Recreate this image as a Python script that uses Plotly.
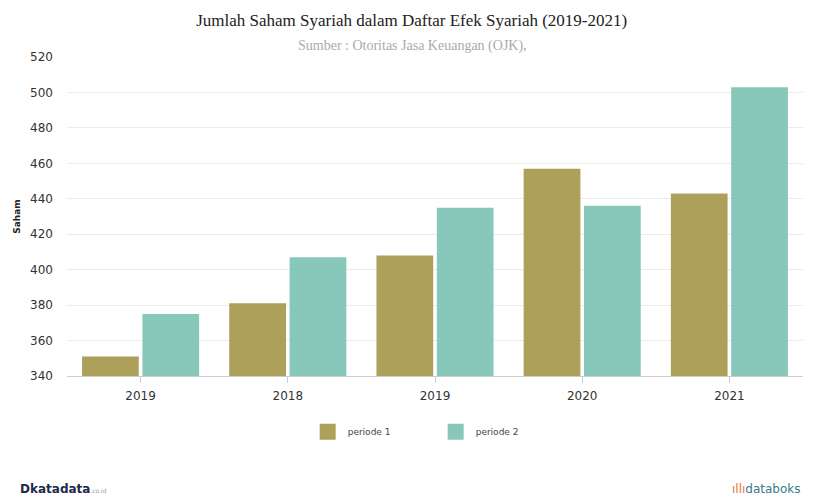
import plotly.graph_objects as go

categories = ["2019", "2018", "2019", "2020", "2021"]
periode_1 = [351, 381, 408, 457, 443]
periode_2 = [375, 407, 435, 436, 503]
y_ticks = [340, 360, 380, 400, 420, 440, 460, 480, 500, 520]
series_names = ["periode 1", "periode 2"]
series_colors = ["#ada05a", "#88c8ba"]

x_pos = list(range(len(categories)))

fig = go.Figure()
for vals, name, col in zip([periode_1, periode_2], series_names, series_colors):
    fig.add_trace(go.Bar(x=x_pos, y=vals, name=name, showlegend=False,
                         marker=dict(color=col, line=dict(width=0))))
for name, col in zip(series_names, series_colors):
    fig.add_trace(go.Scatter(x=[None], y=[None], mode="markers", name=name,
                             marker=dict(symbol="square", size=16, color=col)))

fig.update_layout(
    width=830, height=499,
    margin=dict(l=67, r=27, t=57, b=123, autoexpand=False),
    paper_bgcolor="white", plot_bgcolor="white",
    barmode="group", bargap=0.18, bargroupgap=0.06,
    title=dict(text="Jumlah Saham Syariah dalam Daftar Efek Syariah (2019-2021)",
               x=0.496, xanchor="center", xref="container", yref="container", y=0.96, yanchor="middle",
               font=dict(family="Liberation Serif", size=17, color="#222222")),
    showlegend=True,
    legend=dict(orientation="h", x=0.327, xanchor="left", y=-0.175, yanchor="middle",
                font=dict(family="DejaVu Sans", size=9, color="#444444"),
                entrywidth=83, entrywidthmode="pixels", itemsizing="trace"),
    font=dict(family="DejaVu Sans"),
)
fig.update_xaxes(
    tickmode="array", tickvals=x_pos, ticktext=categories,
    range=[-0.5, len(categories) - 0.5], automargin=False,
    showline=True, linecolor="#cccccc", linewidth=1,
    ticks="outside", ticklen=6, tickcolor="#cccccc",
    tickfont=dict(family="DejaVu Sans", size=12, color="#333333"),
    ticklabelstandoff=3,
    showgrid=False,
)
fig.update_yaxes(
    range=[340, 520], tickvals=y_ticks, automargin=False,
    showgrid=True, gridcolor="#ebebeb", gridwidth=1,
    zeroline=False, showline=False,
    tickfont=dict(family="DejaVu Sans", size=12, color="#333333"),
    ticklabelstandoff=13,
    title=dict(text="<b>Saham</b>", font=dict(family="DejaVu Sans", size=9, color="#222222"), standoff=7),
)
fig.add_annotation(text="Sumber : Otoritas Jasa Keuangan (OJK),", xref="paper", yref="paper",
                   x=0.469, y=1.0, yshift=11, xanchor="center", yanchor="middle", showarrow=False,
                   font=dict(family="Liberation Serif", size=14, color="#aaaaaa"))
fig.add_annotation(text="<b>D</b><b>katadata</b><span style='font-size:6px;color:#999999'>.co.id</span>",
                   xref="paper", yref="paper", x=-0.066, y=0, yshift=-113, xanchor="left", yanchor="middle",
                   showarrow=False, font=dict(family="DejaVu Sans", size=12, color="#1a2a4a"))
fig.add_annotation(text="<span style='color:#e8743b'>ıllı</span>databoks",
                   xref="paper", yref="paper", x=1.0, y=0, yshift=-113, xanchor="right", yanchor="middle",
                   showarrow=False, font=dict(family="DejaVu Sans", size=12, color="#3a7a8a"))

fig.write_html("out.html", config={"displayModeBar": False},
               post_script="document.body.style.margin='0';document.body.style.overflow='hidden';")
